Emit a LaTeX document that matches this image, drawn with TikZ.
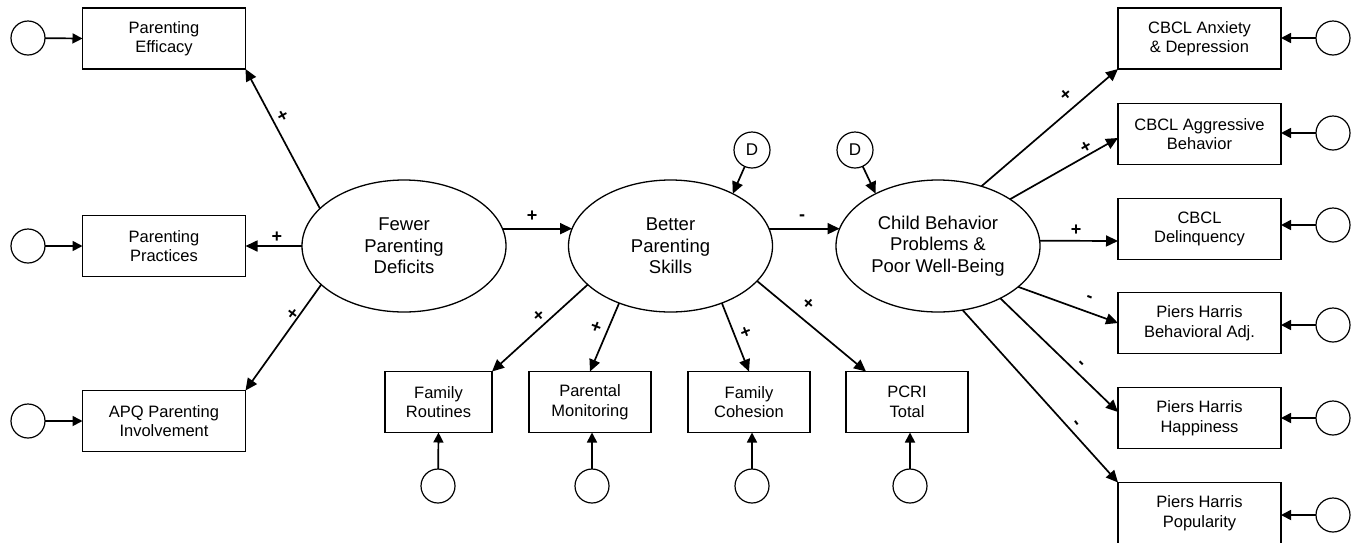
\documentclass[tikz,border=0pt]{standalone}
\usepackage{fontspec}
\setmainfont{Liberation Sans}
\usetikzlibrary{arrows.meta,calc,shapes.geometric}
\tikzset{
  box/.style={draw, line width=1.3pt, minimum width=163pt, minimum height=61pt, inner sep=0pt, outer sep=0pt, align=center, font=\fontsize{16.5}{19.5}\selectfont},
  lat/.style={draw, line width=1.3pt, ellipse, minimum width=204pt, minimum height=132pt, inner sep=0pt, outer sep=0pt, align=center, font=\fontsize{18.5}{21.7}\selectfont},
  err/.style={draw, line width=1.2pt, circle, minimum size=34pt, inner sep=0pt, outer sep=0pt},
  dist/.style={draw, line width=1.2pt, circle, minimum size=36pt, inner sep=0pt, outer sep=0pt, font=\fontsize{17}{17}\selectfont},
  path/.style={line width=1.7pt, -{Triangle[length=12pt,width=11pt]}},
  epath/.style={line width=1.7pt, -{Triangle[length=10pt,width=10pt]}},
  sgn/.style={font=\bfseries\fontsize{18}{18}\selectfont, inner sep=0pt}
}
\begin{document}
\begin{tikzpicture}[x=1pt,y=-1pt]
\useasboundingbox[fill=white] (0,0) rectangle (1360,542);
% latent variables
\node[lat] (fpd) at (404,246) {Fewer\\Parenting\\Deficits};
\node[lat] (bps) at (670.5,246) {Better\\Parenting\\Skills};
\node[lat] (cbp) at (938,246) {Child Behavior\\Problems \&\\Poor Well-Being};
% left boxes
\node[box] (pe) at (164,38.5) {Parenting\\Efficacy};
\node[box] (pp) at (164,246) {Parenting\\Practices};
\node[box] (apq) at (164,421) {APQ Parenting\\Involvement};
\node[err] (e1) at (28,38) {};
\node[err] (e2) at (28,246) {};
\node[err] (e3) at (28,421) {};
% bottom boxes
\node[box, minimum width=107pt] (fr) at (438.5,402) {Family\\Routines};
\node[box, minimum width=122pt] (pm) at (590,402) {Parental\\Monitoring};
\node[box, minimum width=122pt] (fc) at (749,402) {Family\\Cohesion};
\node[box, minimum width=122pt] (pc) at (907,402) {PCRI\\Total};
\node[err] (e4) at (438,486) {};
\node[err] (e5) at (592,486) {};
\node[err] (e6) at (752,486) {};
\node[err] (e7) at (910,486) {};
% right boxes
\node[box] (r1) at (1199.5,38.5) {CBCL Anxiety\\\& Depression};
\node[box] (r2) at (1199.5,134) {CBCL Aggressive\\Behavior};
\node[box] (r3) at (1199.5,229) {CBCL\\Delinquency};
\node[box] (r4) at (1199.5,323) {Piers Harris\\Behavioral Adj.};
\node[box] (r5) at (1199.5,418) {Piers Harris\\Happiness};
\node[box] (r6) at (1199.5,513) {Piers Harris\\Popularity};
\node[err] (f1) at (1333,38) {};
\node[err] (f2) at (1333,133) {};
\node[err] (f3) at (1333,225) {};
\node[err] (f4) at (1333,325) {};
\node[err] (f5) at (1333,418) {};
\node[err] (f6) at (1333,515) {};
% disturbances
\node[dist] (d1) at (752,150) {D};
\node[dist] (d2) at (855,150) {D};
% error arrows
\draw[epath] (e1) -- (pe.west);
\draw[epath] (e2) -- (pp.west);
\draw[epath] (e3) -- (apq.west);
\draw[epath] (e4) -- (fr.south);
\draw[epath] (e5) -- (e5 |- pm.south);
\draw[epath] (e6) -- (e6 |- fc.south);
\draw[epath] (e7) -- (e7 |- pc.south);
\draw[epath] (f1) -- (f1 -| r1.east);
\draw[epath] (f2) -- (f2 -| r2.east);
\draw[epath] (f3) -- (f3 -| r3.east);
\draw[epath] (f4) -- (f4 -| r4.east);
\draw[epath] (f5) -- (f5 -| r5.east);
\draw[epath] (f6) -- (f6 -| r6.east);
% disturbance arrows
\draw[path] (d1) -- (bps.40);
\draw[path] (d2) -- (cbp.140);
% loadings of Fewer Parenting Deficits
\draw[path] (fpd.156) -- (pe.south east);
\draw[path] (fpd.west) -- (pp.east);
\draw[path] (fpd.205) -- (apq.north east);
% structural paths
\draw[path] (fpd.10) -- (bps.170);
\draw[path] (bps.10) -- (cbp.170);
% loadings of Better Parenting Skills
\draw[path] (bps.205) -- (fr.north east);
\draw[path] (bps.228) -- (pm.north);
\draw[path] (bps.-48) -- (fc.north);
\draw[path] (bps.-22) -- ($(pc.north west)+(20,0)$);
% loadings of Child Behavior Problems
\draw[path] (cbp.54) -- (r1.south west);
\draw[path] (cbp.33) -- ($(r2.west)+(0,4)$);
\draw[path] (cbp.3) -- ($(r3.west)+(0,12)$);
\draw[path] (cbp.-27) -- (r4.west);
\draw[path] (cbp.-40) -- ($(r5.west)+(0,-6)$);
\draw[path] (cbp.-69) -- (r6.north west);
% signs
\node[sgn, rotate=29] at (283,116) {+};
\node[sgn] at (277,237) {+};
\node[sgn, rotate=53] at (293,314) {+};
\node[sgn] at (532,216) {+};
\node[sgn] at (802,218) {-};
\node[sgn, rotate=42] at (539,316) {+};
\node[sgn, rotate=-21] at (596,327) {+};
\node[sgn, rotate=21] at (746,333) {+};
\node[sgn, rotate=-41] at (808,304) {+};
\node[sgn, rotate=40] at (1066,95) {+};
\node[sgn, rotate=30] at (1086,147) {+};
\node[sgn] at (1076,230) {+};
\node[sgn, rotate=-21] at (1089,299) {-};
\node[sgn, rotate=-45] at (1080,365) {-};
\node[sgn, rotate=-53] at (1075,424) {-};
\end{tikzpicture}
\end{document}
